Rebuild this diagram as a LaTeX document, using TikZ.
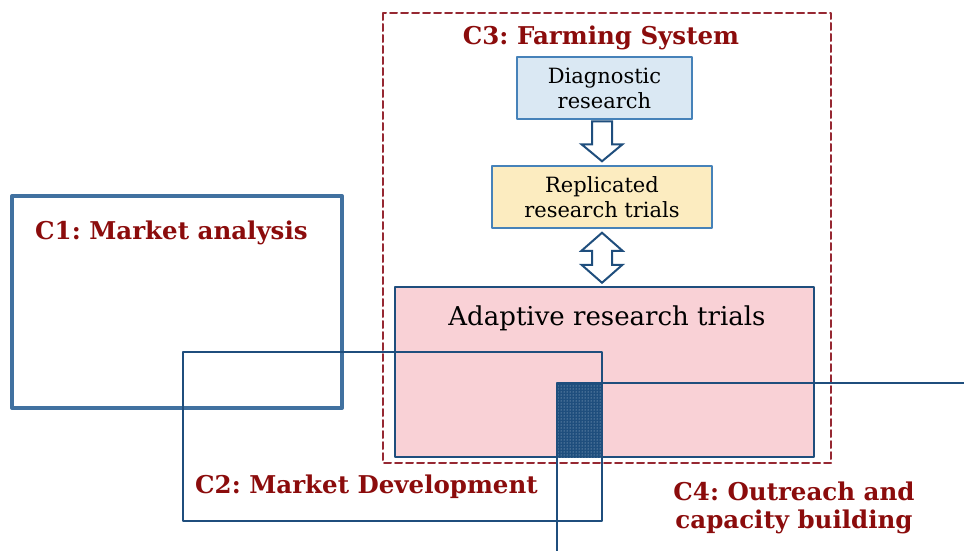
\documentclass[tikz,border=0pt]{standalone}
\usepackage{fontspec}
\setmainfont{DejaVu Serif}
\usepackage{tikz}
\usetikzlibrary{positioning}
\usetikzlibrary{patterns}
\usetikzlibrary{calc}
\definecolor{headred}{RGB}{139,12,12}
\definecolor{dashred}{RGB}{150,40,50}
\definecolor{marketblue}{RGB}{65,113,160}
\definecolor{linkblue}{RGB}{31,78,125}
\definecolor{diagfill}{RGB}{218,232,243}
\definecolor{replfill}{RGB}{252,236,192}
\definecolor{adaptfill}{RGB}{249,209,214}
\definecolor{boxedge}{RGB}{70,130,185}
\frenchspacing

\begin{document}
\begin{tikzpicture}[line cap=round,line join=round,x=1pt,y=-1pt,
  heading/.style={text=headred,font=\fontsize{24.5}{28}\selectfont\bfseries,inner sep=0pt},
  stepbox/.style={draw=boxedge,line width=1.5pt,align=center,inner sep=0pt,
    font=\fontsize{21}{25}\selectfont},
  blockarrow/.style={draw=linkblue,fill=white,line width=2pt,line join=miter}]
\useasboundingbox (0,0) rectangle (964,551);
% C3: farming system frame
\draw[dashred,line width=2pt,dash pattern=on 7pt off 4pt] (383,13) rectangle (831,463);
\node[heading,anchor=base] (c3) at (601,45) {C3: Farming System};
\node[stepbox,fill=diagfill,minimum width=175pt,minimum height=62pt] (diag) at (604.5,88) {Diagnostic\\research};
\node[stepbox,fill=replfill,minimum width=220pt,minimum height=62pt] (repl) at (602,197) {Replicated\\research trials};
\node[draw=linkblue,fill=adaptfill,line width=2pt,minimum width=419pt,minimum height=170pt,inner sep=0pt] (adapt) at (604.5,372) {};
\node[inner sep=0pt,font=\fontsize{26}{30}\selectfont] (adapttxt) at (607,318) {Adaptive research trials};
% block arrows between the steps
\draw[blockarrow] ($(repl.north)+(-10,-44)$) -- ($(repl.north)+(10,-44)$) -- ($(repl.north)+(10,-21)$)
  -- ($(repl.north)+(20.5,-21)$) -- ($(repl.north)+(0,-4)$) -- ($(repl.north)+(-20.5,-21)$)
  -- ($(repl.north)+(-10,-21)$) -- cycle;
\draw[blockarrow] ($(repl.south)+(0,4)$) -- ($(repl.south)+(20.5,22)$) -- ($(repl.south)+(10,22)$)
  -- ($(repl.south)+(10,36)$) -- ($(repl.south)+(20.5,36)$) -- ($(repl.south)+(0,54)$)
  -- ($(repl.south)+(-20.5,36)$) -- ($(repl.south)+(-10,36)$) -- ($(repl.south)+(-10,22)$)
  -- ($(repl.south)+(-20.5,22)$) -- cycle;
% C1: market analysis
\draw[marketblue,line width=4pt,line cap=butt] (12,196) rectangle (342,408);
\node[heading,anchor=base west] (c1) at (35,239) {C1: Market analysis};
% C2: market development
\draw[linkblue,line width=2.5pt,line cap=butt] (183,352) rectangle (602,521);
\node[heading,anchor=base west] (c2) at (195,493) {C2: Market Development};
% overlap of C2, C3 and C4
\fill[linkblue] (557,383) rectangle (601,457);
\fill[pattern=dots,pattern color=white!65!marketblue] (557,383) rectangle (601,457);
% C4: outreach
\draw[linkblue,line width=2pt,line cap=butt] (557,551) -- (557,383) -- (964,383);
\node[heading,align=center] (c4) at (794,508) {C4: Outreach and\\capacity building};
\end{tikzpicture}
\end{document}
